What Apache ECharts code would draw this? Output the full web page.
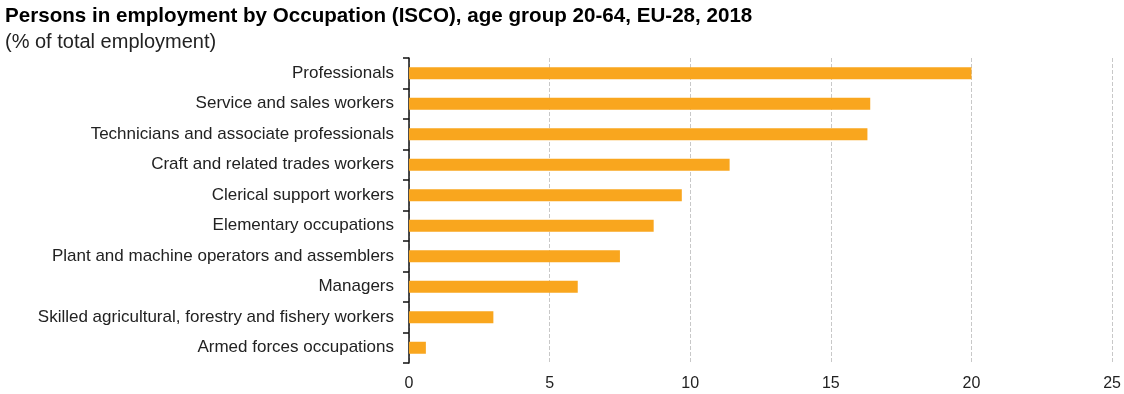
<!DOCTYPE html>
<html>
<head>
<meta charset="utf-8">
<script src="https://cdn.jsdelivr.net/npm/echarts@6/dist/echarts.min.js"></script>
<style>
  html, body { margin: 0; padding: 0; background: #fff; }
  #chart { width: 1124px; height: 394px; }
</style>
</head>
<body>
<div id="chart"></div>
<script>
// occupations, top to bottom
var occupations = [
  'Professionals',
  'Service and sales workers',
  'Technicians and associate professionals',
  'Craft and related trades workers',
  'Clerical support workers',
  'Elementary occupations',
  'Plant and machine operators and assemblers',
  'Managers',
  'Skilled agricultural, forestry and fishery workers',
  'Armed forces occupations'
]
// % of total employment
var shares = [20.0, 16.4, 16.3, 11.4, 9.7, 8.7, 7.5, 6.0, 3.0, 0.6]

var chart = echarts.init(document.getElementById('chart'))
chart.setOption({
  animation: false,
  textStyle: { fontFamily: 'Liberation Sans, Arial, sans-serif' },
  title: {
    text: 'Persons in employment by Occupation (ISCO), age group 20-64, EU-28, 2018',
    subtext: '(% of total employment)',
    left: 0,
    top: 1,
    itemGap: 5,
    textStyle: { fontSize: 20.6, fontWeight: 'bold', color: '#000' },
    subtextStyle: { fontSize: 20, color: '#222' }
  },
  grid: {
    left: 409,
    right: 11,
    top: 58,
    bottom: 31
  },
  xAxis: {
    type: 'value',
    min: 0,
    max: 25,
    interval: 5,
    axisLine: { show: false },
    axisTick: { show: false },
    axisLabel: { fontSize: 16, color: '#222', margin: 13 },
    splitLine: {
      lineStyle: { type: 'dashed', color: '#c8c8c8', width: 1 }
    }
  },
  yAxis: {
    type: 'category',
    inverse: true,
    data: occupations,
    axisLine: { show: true, lineStyle: { color: '#111', width: 1.5 } },
    axisTick: { show: true, length: 6, lineStyle: { color: '#111', width: 1.5 } },
    axisLabel: { fontSize: 17, color: '#222', margin: 15 }
  },
  series: [{
    type: 'bar',
    data: shares,
    barWidth: 12,
    itemStyle: { color: '#F9A61E' }
  }]
})
</script>
</body>
</html>
